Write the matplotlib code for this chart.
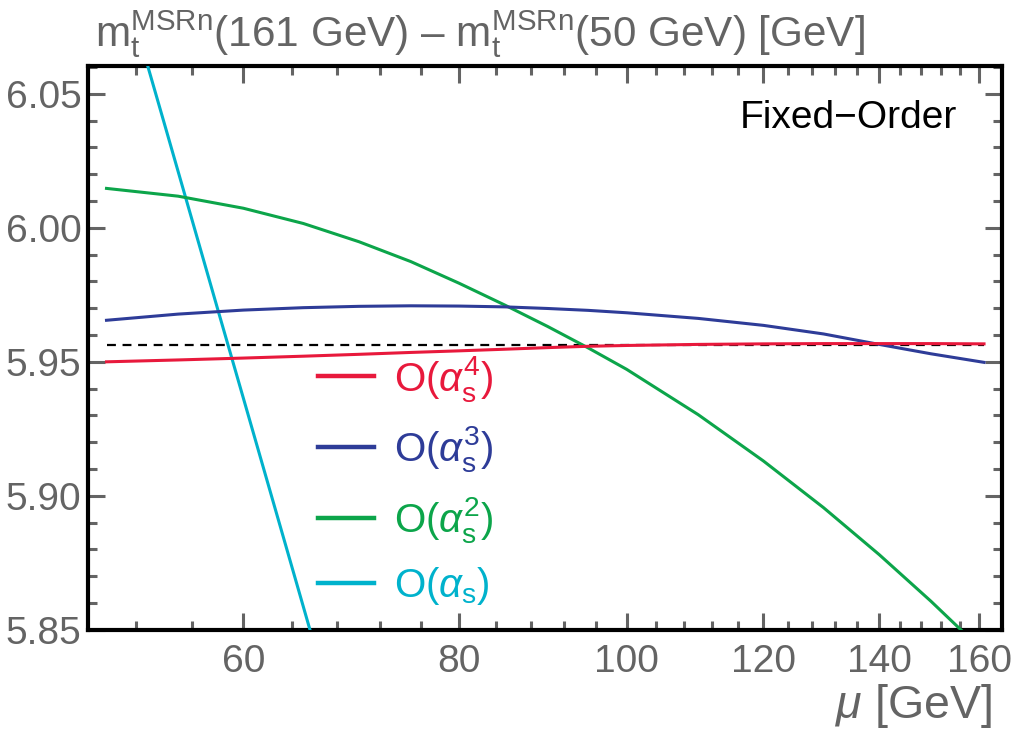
import numpy as np
import matplotlib
matplotlib.use('Agg')
import matplotlib.pyplot as plt
from matplotlib.ticker import FixedLocator, NullFormatter, MultipleLocator

plt.rcParams['font.family'] = ['Liberation Sans', 'DejaVu Sans']
plt.rcParams['mathtext.fontset'] = 'custom'
plt.rcParams['mathtext.rm'] = 'Liberation Sans'
plt.rcParams['mathtext.it'] = 'Liberation Sans:italic'
plt.rcParams['mathtext.bf'] = 'Liberation Sans:bold'

GRAY = '#646464'

# scale mu [GeV]
mu = [50, 55, 60, 65, 70, 75, 80, 85, 90, 95, 100, 110, 120, 130, 140, 150, 161]
# O(alpha_s^4)
y_a4 = [5.9500, 5.9507, 5.9514, 5.9521, 5.9528, 5.9535, 5.9541, 5.9547, 5.9553, 5.9558, 5.9561,
        5.9565, 5.9567, 5.9568, 5.9568, 5.9568, 5.9567]
# O(alpha_s^3)
y_a3 = [5.9655, 5.9678, 5.9693, 5.9702, 5.9707, 5.9709, 5.9708, 5.9705, 5.9699, 5.9692, 5.9683,
        5.9662, 5.9636, 5.9604, 5.9565, 5.9530, 5.9498]
# O(alpha_s^2)
y_a2 = [6.0147, 6.0118, 6.0073, 6.0016, 5.9948, 5.9874, 5.9793, 5.9712, 5.9632, 5.9552, 5.9472,
        5.9303, 5.9130, 5.8956, 5.8781, 5.8607, 5.8418]
# O(alpha_s), only the visible part
mu_a1 = [50, 52, 54, 56, 58, 60, 62, 64, 66]
y_a1 = [6.1134, 6.0756, 6.0390, 6.0036, 5.9694, 5.9365, 5.9046, 5.8737, 5.8437]
# converged value
y_ref = 5.9561

labels = [r'O($\alpha_{\mathregular{s}}^{4}$)', r'O($\alpha_{\mathregular{s}}^{3}$)',
          r'O($\alpha_{\mathregular{s}}^{2}$)', r'O($\alpha_{\mathregular{s}}$)']
colors = ['#e8193c', '#2e3c98', '#0ca54a', '#00b2cc']

fig = plt.figure(figsize=(10.17, 7.53), dpi=100)
ax = fig.add_axes([0.0868, 0.1635, 0.8982, 0.7490])

ax.plot([mu[0], mu[-1]], [y_ref, y_ref], color='black', lw=1.6, ls=(0, (4, 3)), zorder=2)
l1, = ax.plot(mu_a1, y_a1, color=colors[3], lw=2.2, zorder=3)
l2, = ax.plot(mu, y_a2, color=colors[2], lw=2.2, zorder=3)
l3, = ax.plot(mu, y_a3, color=colors[1], lw=2.2, zorder=4)
l4, = ax.plot(mu, y_a4, color=colors[0], lw=2.2, zorder=5)

ax.set_xscale('log')
ax.set_xlim(48.8, 164.85)
ax.set_ylim(5.85, 6.0604)

ax.xaxis.set_major_locator(FixedLocator([60, 80, 100, 120, 140, 160]))
ax.xaxis.set_minor_locator(FixedLocator([52, 56, 64, 68, 72, 76, 84, 88, 92, 96, 104, 108, 112, 116,
                                         124, 128, 132, 136, 144, 148, 152, 156]))
ax.xaxis.set_major_formatter(matplotlib.ticker.FixedFormatter(['60', '80', '100', '120', '140', '160']))
ax.xaxis.set_minor_formatter(NullFormatter())
ax.yaxis.set_major_locator(MultipleLocator(0.05))
ax.yaxis.set_minor_locator(MultipleLocator(0.01))
ax.yaxis.set_major_formatter(matplotlib.ticker.FormatStrFormatter('%.2f'))

ax.tick_params(which='both', direction='in', top=True, right=True, color=GRAY,
               labelcolor=GRAY, labelsize=28, width=2.2)
ax.tick_params(which='major', length=12.5)
ax.tick_params(which='minor', length=6.5)
ax.tick_params(axis='x', pad=10)
ax.tick_params(axis='y', pad=5)
for s in ax.spines.values():
    s.set_linewidth(3)
    s.set_color('black')

# axis label and title as figure text
fig.text(992 / 1017, 1 - 718 / 753, r'$\mu$ [GeV]', fontsize=33.5, color=GRAY, ha='right', va='baseline')
fig.text(0.093, 0.9376, r'$\mathregular{m_t^{MSRn}}$(161 GeV) – $\mathregular{m_t^{MSRn}}$(50 GeV) [GeV]',
         fontsize=30.4, color=GRAY, ha='left', va='baseline')

ax.text(0.951, 0.908, 'Fixed−Order', transform=ax.transAxes, ha='right', va='center',
        fontsize=28, color='black')

leg = ax.legend([l4, l3, l2, l1], labels, loc='upper left', bbox_to_anchor=(0.2123, 0.5542),
                fontsize=29, frameon=False, handlelength=1.37, handletextpad=0.5,
                labelspacing=0.51, labelcolor='linecolor')
for h in leg.get_lines():
    h.set_linewidth(3.2)

fig.savefig('out.png', dpi=100)
